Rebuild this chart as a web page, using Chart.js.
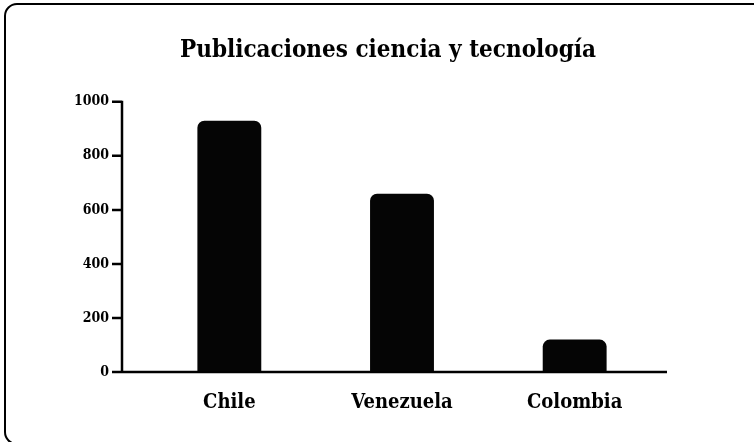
<!DOCTYPE html>
<html>
<head>
<meta charset="utf-8">
<script src="https://cdn.jsdelivr.net/npm/chart.js@4/dist/chart.umd.min.js"></script>
<style>
  html, body { margin: 0; padding: 0; background: #fff; }
  #wrap { width: 754px; height: 442px; position: relative; }
</style>
</head>
<body>
<div id="wrap"><canvas id="chart"></canvas></div>
<script>
// Data
const categories = ['Chile', 'Venezuela', 'Colombia'];
const publicaciones = [930, 660, 120];
const yTicks = [0, 200, 400, 600, 800, 1000];
const chartTitle = 'Publicaciones ciencia y tecnología';

const slab = 'DejaVu Serif Condensed';

// Rounded frame + hand-drawn axes (the reference axes sit apart from the bars)
const framePlugin = {
    id: 'frame',
    beforeDraw: function (chart) {
        const ctx = chart.ctx;
        ctx.save();
        ctx.fillStyle = '#ffffff';
        ctx.fillRect(0, 0, chart.width, chart.height);
        ctx.strokeStyle = '#000';
        ctx.lineWidth = 2;
        ctx.beginPath();
        ctx.roundRect(5, 4, 760, 440, 12);
        ctx.stroke();
        ctx.restore();
    },
    afterDatasetsDraw: function (chart) {
        const ctx = chart.ctx;
        const y = chart.scales.y;
        const area = chart.chartArea;
        const axisX = area.left - 21;
        ctx.save();
        ctx.strokeStyle = '#000';
        ctx.lineWidth = 2.5;
        ctx.beginPath();
        ctx.moveTo(axisX, y.getPixelForValue(1000) - 1);
        ctx.lineTo(axisX, y.getPixelForValue(0));
        ctx.lineTo(area.right + 6, y.getPixelForValue(0));
        yTicks.forEach(function (v) {
            const py = y.getPixelForValue(v);
            ctx.moveTo(axisX - 10, py);
            ctx.lineTo(axisX, py);
        });
        ctx.stroke();
        ctx.restore();
    }
};

new Chart(document.getElementById('chart'), {
    type: 'bar',
    data: {
        labels: categories,
        datasets: [{
            label: chartTitle,
            data: publicaciones,
            backgroundColor: '#050505',
            borderSkipped: 'bottom',
            borderRadius: 7,
            categoryPercentage: 1,
            barPercentage: 0.37
        }]
    },
    options: {
        responsive: true,
        maintainAspectRatio: false,
        animation: false,
        layout: { padding: { left: 22, right: 0, top: 0, bottom: 0 } },
        plugins: {
            legend: { display: false },
            tooltip: { enabled: false },
            title: {
                display: true,
                text: chartTitle,
                color: '#000',
                font: { family: slab, size: 24, weight: 'bold' },
                padding: { top: 36, bottom: 37 }
            }
        },
        scales: {
            y: {
                min: 0,
                max: 1000,
                afterBuildTicks: function (scale) {
                    scale.ticks = yTicks.map(function (v) { return { value: v }; });
                },
                afterFit: function (scale) { scale.width = 121; },
                grid: { display: false, drawTicks: false },
                border: { display: false },
                ticks: {
                    color: '#000',
                    padding: 34,
                    callback: function (v) { return String(v); },
                    font: { family: slab, size: 14, weight: 'bold' }
                }
            },
            // empty right-hand spacer so the plot ends where the reference does
            spacer: {
                type: 'linear',
                position: 'right',
                afterFit: function (scale) { scale.width = 93; },
                grid: { display: false, drawTicks: false },
                border: { display: false },
                ticks: { display: false }
            },
            x: {
                afterFit: function (scale) { scale.height = 70; },
                grid: { display: false, drawTicks: false },
                border: { display: false },
                ticks: {
                    color: '#000',
                    padding: 19,
                    font: { family: slab, size: 20, weight: 'bold' }
                }
            }
        }
    },
    plugins: [framePlugin]
});
</script>
</body>
</html>
